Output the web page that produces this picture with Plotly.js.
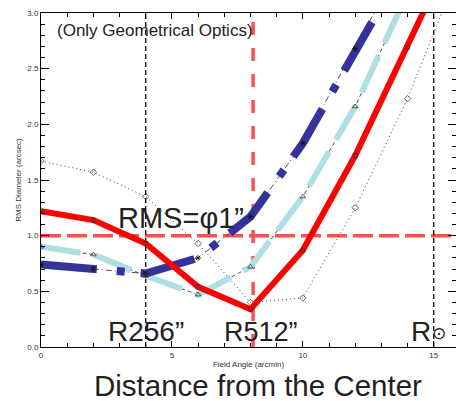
<!DOCTYPE html>
<html>
<head>
<meta charset="utf-8">
<script src="https://cdn.plot.ly/plotly-3.0.1.min.js"></script>
<style>html,body{margin:0;padding:0;background:#fff;}#chart{width:456px;height:401px;}</style>
</head>
<body>
<div id="chart"></div>
<script>
// Field angle samples (arcmin)
const fieldAngle = [0, 2, 4, 6, 8, 10, 12, 14, 16];
// RMS diameter (arcsec) per design
const redSeries       = [1.22, 1.14, 0.93, 0.54, 0.34, 0.87, 1.72, 2.69, 3.70];
const darkBlueSeries  = [0.74, 0.70, 0.66, 0.80, 1.17, 1.83, 2.68, 3.55, 4.30];
const lightBlueSeries = [0.90, 0.83, 0.64, 0.47, 0.72, 1.35, 2.16, 3.20, 4.20];
const dottedSeries    = [1.67, 1.57, 1.35, 0.93, 0.40, 0.44, 1.25, 2.23, 3.41];
// reference lines
const rmsLimit = 1.0;
const r512Angle = 8.1;
const blackMarkAngles = [4, 15];
const yTop = 3.0;
const xTicks = [0, 5, 10, 15];

const font = 'Liberation Sans, Arial, sans-serif';
const traces = [];

// reference lines
traces.push({x: [0, 16], y: [rmsLimit, rmsLimit], mode: 'lines',
  line: {color: '#ff5050', width: 3.5, dash: '20px,6px'}});
traces.push({x: [r512Angle, r512Angle], y: [0, yTop], mode: 'lines',
  line: {color: '#ff5050', width: 3.5, dash: '13px,13px'}});
blackMarkAngles.forEach(a => traces.push({x: [a, a], y: [0, yTop], mode: 'lines',
  line: {color: '#000', width: 1.3, dash: '5px,3px'}}));

// thin black lines
traces.push({x: fieldAngle, y: dottedSeries, mode: 'lines+markers',
  line: {color: '#444', width: 1, dash: '1px,3px'},
  marker: {symbol: 'diamond-open', size: 5, color: '#444', line: {width: 0.8}}});
traces.push({x: fieldAngle, y: darkBlueSeries, mode: 'lines',
  line: {color: '#222', width: 0.8, dash: '6px,3px,1px,3px'}});
traces.push({x: fieldAngle, y: lightBlueSeries, mode: 'lines',
  line: {color: '#222', width: 0.8, dash: '4px,3px'}});
traces.push({x: fieldAngle, y: redSeries, mode: 'lines',
  line: {color: '#222', width: 0.8}});

// thick coloured lines
traces.push({x: fieldAngle, y: lightBlueSeries, mode: 'lines',
  line: {color: '#b0dfe3', width: 6, dash: '40px,14px'}});
traces.push({x: fieldAngle, y: darkBlueSeries, mode: 'lines',
  line: {color: '#333399', width: 8, dash: '56px,20px,8px,16px'}});
traces.push({x: fieldAngle, y: redSeries, mode: 'lines',
  line: {color: '#ff0000', width: 6}});

// markers on top
traces.push({x: fieldAngle, y: darkBlueSeries, mode: 'markers',
  marker: {symbol: 'asterisk-open', size: 5, color: '#111', line: {width: 0.8, color: '#111'}}});
traces.push({x: fieldAngle, y: lightBlueSeries, mode: 'markers',
  marker: {symbol: 'triangle-up-open', size: 5, color: '#333', line: {width: 0.8}}});
traces.push({x: fieldAngle, y: redSeries, mode: 'markers',
  marker: {symbol: 'square-open', size: 4, color: '#333', line: {width: 0.8}}});

traces.forEach(t => { t.showlegend = false; t.hoverinfo = 'skip'; });

const txt = '#222';
const layout = {
  width: 456, height: 401,
  margin: {l: 41, r: 0, t: 13, b: 54},
  paper_bgcolor: '#fff', plot_bgcolor: '#fff',
  font: {family: font, color: txt},
  showlegend: false,
  xaxis: {
    range: [0, 15.85], tickvals: xTicks, ticks: 'inside', ticklen: 6, tickwidth: 1, tickcolor: '#000',
    minor: {tick0: 0, dtick: 1, ticks: 'inside', ticklen: 4, tickcolor: '#000'},
    showline: true, linecolor: '#000', linewidth: 1, mirror: 'allticks',
    showgrid: false, zeroline: false,
    tickfont: {size: 8, color: '#333', family: font},
    title: {text: 'Field Angle (arcmin)', font: {size: 8, color: '#333', family: font}, standoff: 2}
  },
  yaxis: {
    range: [0, yTop], dtick: 0.5, tick0: 0, tickformat: '.1f',
    ticks: 'inside', ticklen: 8, tickwidth: 1, tickcolor: '#000',
    minor: {tick0: 0, dtick: 0.1, ticks: 'inside', ticklen: 4, tickcolor: '#000'},
    showline: true, linecolor: '#000', linewidth: 1, mirror: 'allticks',
    showgrid: false, zeroline: false,
    tickfont: {size: 8, color: '#333', family: font},
    title: {text: 'RMS Diameter (arcsec)', font: {size: 8, color: '#333', family: font}, standoff: 4}
  },
  annotations: [
    {text: '(Only Geometrical Optics)', x: 0.54, y: 2.84, xref: 'x', yref: 'y', xanchor: 'left', yanchor: 'middle',
     showarrow: false, font: {size: 17, color: txt}},
    {text: 'RMS=φ1”', x: 2.85, y: 1.16, xref: 'x', yref: 'y', xanchor: 'left', yanchor: 'middle',
     showarrow: false, font: {size: 29, color: txt}},
    {text: 'R256”', x: 2.5, y: 0.135, xref: 'x', yref: 'y', xanchor: 'left', yanchor: 'middle',
     showarrow: false, font: {size: 28, color: txt}},
    {text: 'R512”', x: 6.93, y: 0.135, xref: 'x', yref: 'y', xanchor: 'left', yanchor: 'middle',
     showarrow: false, font: {size: 27, color: txt}},
    {text: 'R', x: 14.05, y: 0.135, xref: 'x', yref: 'y', xanchor: 'left', yanchor: 'middle',
     showarrow: false, font: {size: 28, color: txt}},
    {text: '⊙', x: 15.2, y: 0.125, xref: 'x', yref: 'y', xanchor: 'center', yanchor: 'middle',
     showarrow: false, font: {size: 17, color: txt, family: 'DejaVu Sans'}},
    {text: 'Distance from the Center', x: 0.523, y: -0.115, xref: 'paper', yref: 'paper', xanchor: 'center', yanchor: 'middle',
     showarrow: false, font: {size: 29.5, color: txt}}
  ]
};

Plotly.newPlot('chart', traces, layout, {staticPlot: true, displayModeBar: false});
</script>
</body>
</html>
